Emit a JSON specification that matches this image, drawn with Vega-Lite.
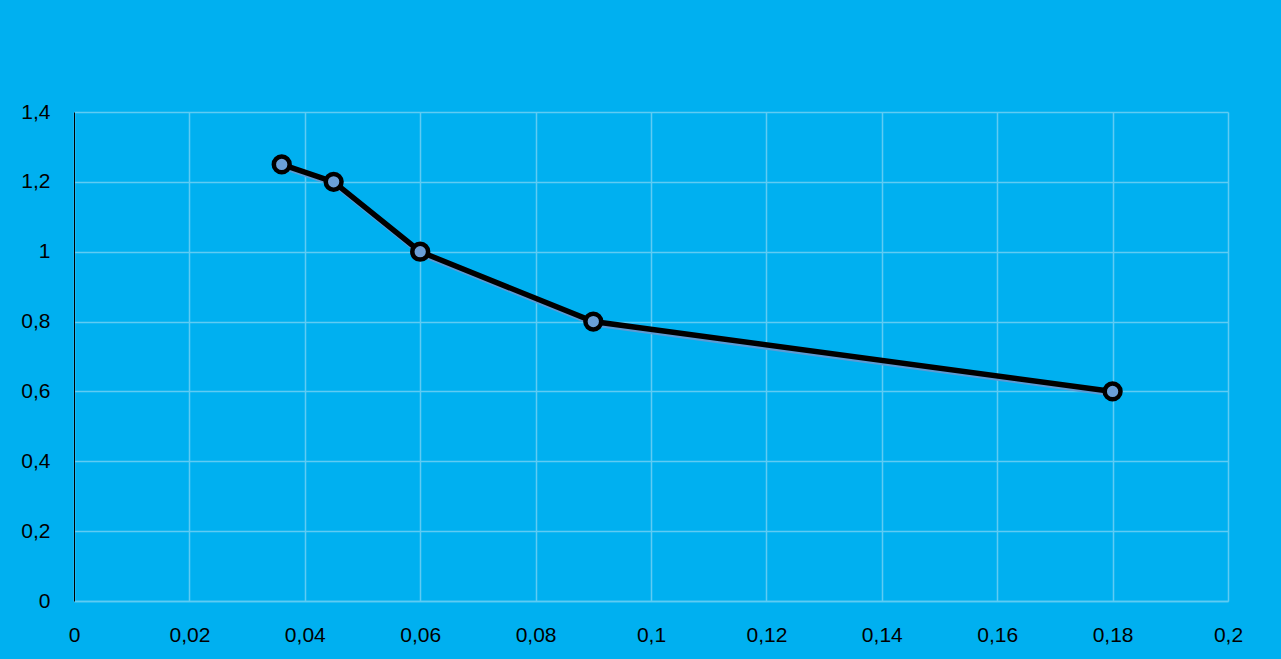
{
  "$schema": "https://vega.github.io/schema/vega-lite/v6.json",
  "autosize": "none",
  "width": 1154,
  "height": 489,
  "padding": {"left": 74, "top": 112, "right": 53, "bottom": 58},
  "background": "#00B0F0",
  "config": {
    "view": {"stroke": null},
    "locale": {"number": {"decimal": ",", "thousands": ".", "grouping": [3], "currency": ["", " €"]}},
    "axis": {
      "labelFont": "Liberation Sans",
      "labelFontSize": 21,
      "labelColor": "#000000",
      "gridColor": "#5FCBF3",
      "gridWidth": 1.5,
      "gridOpacity": 1,
      "ticks": false,
      "title": null
    }
  },
  "data": {
    "values": [
      {"x": 0.036, "y": 1.25},
      {"x": 0.045, "y": 1.2},
      {"x": 0.06, "y": 1.0},
      {"x": 0.09, "y": 0.8},
      {"x": 0.18, "y": 0.6}
    ]
  },
  "encoding": {
    "x": {
      "field": "x",
      "type": "quantitative",
      "scale": {"domain": [0, 0.2], "nice": false, "zero": true},
      "axis": {
        "values": [0, 0.02, 0.04, 0.06, 0.08, 0.1, 0.12, 0.14, 0.16, 0.18, 0.2],
        "format": ".2~f",
        "labelPadding": 23,
        "domainColor": "#5FCBF3",
        "domainWidth": 1.5,
        "labelFlush": false
      }
    },
    "y": {
      "field": "y",
      "type": "quantitative",
      "scale": {"domain": [0, 1.4], "nice": false},
      "axis": {
        "values": [0, 0.2, 0.4, 0.6, 0.8, 1, 1.2, 1.4],
        "format": ".1~f",
        "labelPadding": 24,
        "domainColor": "#000000",
        "domainWidth": 1
      }
    }
  },
  "layer": [
    {"mark": {"type": "line", "color": "#5B9BD5", "strokeWidth": 4, "yOffset": 3, "xOffset": 1}},
    {"mark": {"type": "line", "color": "#000000", "strokeWidth": 5.5}},
    {"mark": {"type": "point", "shape": "circle", "filled": true, "fill": "#6A9FD8", "stroke": "#000000", "strokeWidth": 4.5, "size": 250, "opacity": 1}}
  ]
}
